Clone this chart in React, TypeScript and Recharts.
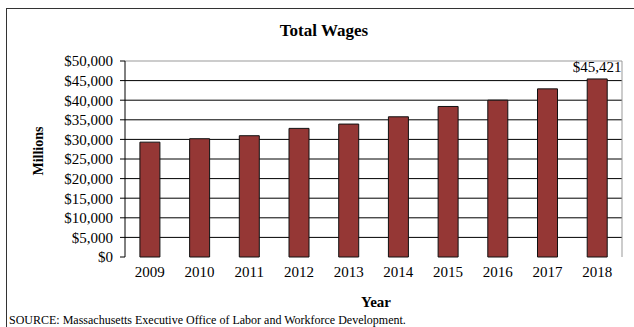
import { BarChart, Bar, XAxis, YAxis, CartesianGrid, ReferenceLine, LabelList } from 'recharts'

const years = ['2009', '2010', '2011', '2012', '2013', '2014', '2015', '2016', '2017', '2018']
const wages = [29300, 30170, 30940, 32810, 33910, 35770, 38400, 40010, 42890, 45421]
const yTicks = [0, 5000, 10000, 15000, 20000, 25000, 30000, 35000, 40000, 45000, 50000]
const gridValues = [5000, 10000, 15000, 20000, 25000, 30000, 35000, 40000, 45000]
const boundaryTicks = [0, 1, 2, 3, 4, 5, 6, 7, 8, 9, 10]

const data = years.map((year, i) => ({ year, wages: wages[i], pos: i + 0.5 }))

const serif = '"Liberation Serif", "Times New Roman", serif'
const money = (v: number) => '$' + v.toLocaleString('en-US')

export default function App() {
  return (
    <div
      style={{
        position: 'fixed',
        left: 0,
        top: 0,
        width: 634,
        height: 327,
        overflow: 'hidden',
        background: '#fff',
        fontFamily: serif,
        color: '#000',
      }}
    >
      {/* outer frame */}
      <div
        style={{
          position: 'absolute',
          left: 6,
          top: 8,
          width: 700,
          height: 400,
          border: '1px solid #333',
        }}
      />
      <div
        style={{
          position: 'absolute',
          left: 224,
          top: 22,
          width: 200,
          textAlign: 'center',
          fontSize: 17,
          lineHeight: '17px',
          fontWeight: 'bold',
        }}
      >
        Total Wages
      </div>
      <BarChart
        width={634}
        height={327}
        data={data}
        margin={{ top: 61, right: 12, left: 0, bottom: 40 }}
        barCategoryGap="30%"
        style={{ position: 'absolute', left: 0, top: 0 }}
      >
        <CartesianGrid vertical={false} horizontalValues={gridValues} stroke="#000" strokeWidth={1} />
        <ReferenceLine y={50000} stroke="#999" strokeWidth={1} />
        <XAxis
          xAxisId="b"
          type="number"
          dataKey="pos"
          domain={[0, 10]}
          ticks={boundaryTicks}
          interval={0}
          height={0}
          tickSize={5}
          stroke="#000"
          tickFormatter={() => ''}
          allowDataOverflow
        />
        <ReferenceLine xAxisId="b" x={10} stroke="#999" strokeWidth={1} />
        <XAxis
          dataKey="year"
          axisLine={false}
          tickLine={false}
          tickSize={0}
          tickMargin={9}
          height={30}
          interval={0}
          tick={{ fill: '#000', fontSize: 15, fontFamily: serif }}
        />
        <YAxis
          width={125}
          domain={[0, 50000]}
          ticks={yTicks}
          interval={0}
          tickFormatter={money}
          tickSize={5}
          tickMargin={7}
          stroke="#000"
          tick={{ fill: '#000', fontSize: 15, fontFamily: serif }}
          label={({ viewBox }: any) => (
            <text
              x={viewBox.x + 38}
              y={viewBox.y + viewBox.height / 2 - 8}
              transform={`rotate(-90 ${viewBox.x + 38} ${viewBox.y + viewBox.height / 2 - 8})`}
              textAnchor="middle"
              dominantBaseline="central"
              fontSize={14}
              fontWeight="bold"
              fontFamily={serif}
              fill="#000"
            >
              Millions
            </text>
          )}
        />
        <Bar dataKey="wages" fill="#953735" stroke="#111" strokeWidth={1} isAnimationActive={false}>
          <LabelList
            dataKey="wages"
            content={(p: any) =>
              p.index === years.length - 1 ? (
                <text
                  x={p.x + p.width / 2}
                  y={p.y - 12}
                  textAnchor="middle"
                  dominantBaseline="central"
                  fontSize={15}
                  fontFamily={serif}
                  fill="#000"
                >
                  {money(p.value)}
                </text>
              ) : null
            }
          />
        </Bar>
      </BarChart>
      <div
        style={{
          position: 'absolute',
          left: 326,
          top: 295,
          width: 100,
          textAlign: 'center',
          fontSize: 15,
          lineHeight: '15px',
          fontWeight: 'bold',
        }}
      >
        Year
      </div>
      <div
        style={{
          position: 'absolute',
          left: 9,
          top: 314,
          whiteSpace: 'nowrap',
          fontSize: 12,
          lineHeight: '12px',
        }}
      >
        SOURCE: Massachusetts Executive Office of Labor and Workforce Development.
      </div>
    </div>
  )
}
